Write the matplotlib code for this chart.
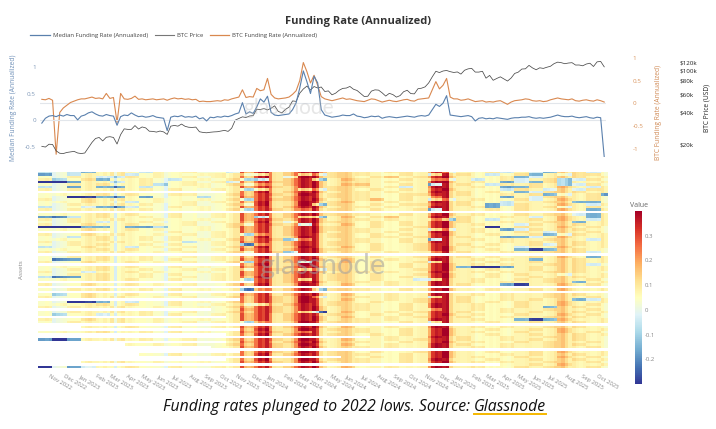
import matplotlib
matplotlib.use("Agg")
import matplotlib.pyplot as plt
import matplotlib.dates as mdates
from matplotlib.lines import Line2D
from matplotlib.ticker import FixedLocator, NullFormatter
import numpy as np
import pandas as pd

plt.rcParams['font.family'] = ['Open Sans', 'DejaVu Sans']

# weekly samples starting 2022-10-13
start = pd.Timestamp('2022-10-13')

median_rate = [
    # 2022
    -0.05, 0.04, 0.08, 0.09, 0.07, 0.1, 0.08, 0.11, 0.09, 0.09, 0.01, 0.08,
    # 2023
    0.1, 0.14, 0.16, 0.12,
    0.09, 0.08, 0.11, 0.09,
    0.08, -0.09, 0.07, 0.1, 0.09,
    0.14, 0.1, 0.07, 0.08,
    0.06, 0.07, 0.09, 0.06,
    0.05, 0.04, -0.19, 0.06, 0.08,
    0.07, 0.09, 0.06, 0.07,
    0.06, 0.08, 0.03, 0.05, -0.01,
    0.06, 0.05, 0.07, 0.06,
    0.08, 0.07, 0.09, 0.12,
    0.14, 0.33, 0.12, 0.16, 0.13,
    0.25, 0.4, 0.34, 0.45,
    # 2024
    0.15, 0.1, 0.09, 0.1,
    0.11, 0.12, 0.2, 0.33, 0.6,
    0.92, 0.72, 0.5, 0.82,
    0.7, 0.2, 0.1, 0.08,
    0.06, 0.07, 0.08, 0.1, 0.09,
    0.09, 0.12, 0.08, 0.07,
    0.05, 0.06, 0.08, 0.07,
    0.08, 0.04, 0.06, 0.07, 0.06,
    0.05, 0.06, 0.07, 0.08,
    0.07, 0.06, 0.08, 0.09, 0.08,
    0.1, 0.2, 0.3, 0.26,
    0.32, 0.46, 0.1, 0.09,
    # 2025
    0.08, 0.07, 0.08, 0.09, 0.07,
    -0.01, 0.04, 0.05, 0.03,
    0.04, 0.03, 0.05, 0.04,
    0.03, 0.02, 0.04, 0.05,
    0.05, 0.06, 0.06, 0.07, 0.05,
    0.04, 0.05, 0.04, 0.05,
    0.06, 0.08, 0.1, 0.08, 0.07,
    0.07, 0.08, 0.06, 0.05,
    0.06, 0.07, 0.05, 0.04,
    0.06, 0.05, -0.68,
]

btc_funding = [
    # 2022
    0.09, 0.08, 0.11, 0.07, -1.12, -0.2, -0.1, -0.04, 0.02, 0.05, 0.08, 0.1,
    # 2023
    0.1, 0.12, 0.14, 0.11,
    0.12, 0.1, 0.22, 0.11,
    0.13, -0.42, 0.22, 0.1, 0.09,
    0.11, 0.16, 0.09, 0.1,
    0.08, 0.09, 0.1, 0.08,
    0.09, 0.1, 0.07, 0.1, 0.12,
    0.1, 0.11, 0.09, 0.1,
    0.08, 0.09, 0.04, 0.05, 0.04,
    0.04, 0.05, 0.06, 0.05,
    0.08, 0.07, 0.1, 0.12,
    0.14, 0.3, 0.13, 0.15, 0.14,
    0.33, 0.28, 0.3, 0.55,
    # 2024
    0.2, 0.12, 0.1, 0.11,
    0.12, 0.14, 0.2, 0.28, 0.5,
    0.9, 0.7, 0.45, 0.62,
    0.4, 0.15, 0.1, 0.08,
    0.06, 0.08, 0.1, 0.12, 0.09,
    0.1, 0.08, 0.06, 0.05,
    0.04, 0.07, 0.1, 0.09,
    0.06, 0.03, 0.05, 0.07, 0.05,
    0.04, 0.06, 0.08, 0.09,
    0.06, 0.05, 0.09, 0.1, 0.11,
    0.12, 0.3, 0.48, 0.32,
    0.4, 0.55, 0.14, 0.1,
    # 2025
    0.1, 0.07, 0.08, 0.1, 0.07,
    0.04, 0.05, 0.06, 0.03,
    0.04, 0.03, 0.05, 0.06,
    0.02, -0.02, 0.03, 0.06,
    0.07, 0.08, 0.1, 0.09, 0.06,
    0.05, 0.06, 0.04, 0.05,
    0.08, 0.1, 0.12, 0.1, 0.09,
    0.08, 0.1, 0.06, 0.05,
    0.07, 0.08, 0.06, 0.05,
    0.08, 0.06, 0.03,
]

# BTC price in thousands USD
btc_price_k = [
    # 2022
    19.4, 19.1, 20.3, 20.2, 17.6, 16.7, 16.6, 17.0, 17.2, 17.4, 16.8, 16.6,
    # 2023
    16.8, 18.8, 21.1, 23.0,
    23.5, 21.8, 23.6, 23.9,
    23.5, 20.4, 25.0, 28.3, 28.0,
    28.0, 30.4, 28.2, 29.5,
    28.9, 26.9, 26.8, 26.4,
    27.0, 26.5, 25.1, 30.0, 30.5,
    30.0, 31.4, 29.9, 29.3,
    29.2, 29.4, 26.6, 26.2, 26.0,
    26.3, 26.5, 26.6, 27.0,
    27.4, 26.8, 28.7, 34.2,
    35.4, 36.7, 36.2, 37.4, 37.7,
    43.3, 43.0, 43.9, 42.6,
    # 2024
    44.2, 46.6, 41.3, 40.0,
    43.1, 45.3, 51.8, 51.3, 61.2,
    67.0, 71.4, 65.5, 70.7,
    68.5, 70.0, 63.5, 64.3,
    59.1, 61.2, 65.2, 67.9, 68.4,
    70.8, 66.7, 64.9, 60.8,
    57.0, 57.3, 64.0, 65.8,
    65.4, 61.7, 57.5, 61.0, 59.4,
    56.2, 58.1, 63.2, 65.2,
    60.7, 60.3, 67.4, 68.2, 70.2,
    76.5, 87.2, 98.3, 95.6,
    98.9, 100.0, 97.5, 95.8,
    # 2025
    96.9, 92.5, 100.5, 103.6, 104.7,
    96.6, 96.6, 98.3, 84.7,
    89.9, 80.9, 84.2, 87.2,
    83.2, 79.6, 84.9, 93.8,
    96.5, 103.2, 103.7, 111.7, 105.6,
    101.6, 106.0, 104.6, 107.3,
    109.6, 116.0, 119.8, 118.4, 115.8,
    117.5, 118.4, 112.5, 112.6,
    110.7, 115.0, 117.0, 109.0,
    120.5, 121.7, 108.2,
]

# heatmap: typical weekly level across assets
hm_level = [
    # 2022
    0.04, 0.04, 0.05, 0.04, -0.01, 0.01, 0.02, 0.03, 0.04, 0.05, 0.05, 0.05,
    # 2023
    0.06, 0.08, 0.09, 0.07,
    0.07, 0.06, 0.08, 0.06,
    0.06, -0.03, 0.05, 0.07, 0.06,
    0.07, 0.06, 0.05, 0.05,
    0.05, 0.04, 0.05, 0.04,
    0.04, 0.03, -0.02, 0.04, 0.05,
    0.05, 0.06, 0.04, 0.04,
    0.04, 0.05, 0.02, 0.03, 0.02,
    0.03, 0.03, 0.04, 0.04,
    0.05, 0.05, 0.07, 0.1,
    0.1, 0.26, 0.14, 0.12, 0.14,
    0.25, 0.33, 0.3, 0.36,
    # 2024
    0.24, 0.1, 0.09, 0.09,
    0.1, 0.1, 0.14, 0.22, 0.32,
    0.38, 0.36, 0.32, 0.37,
    0.3, 0.12, 0.07, 0.06,
    0.07, 0.08, 0.1, 0.14, 0.15,
    0.13, 0.09, 0.06, 0.05,
    0.05, 0.06, 0.07, 0.07,
    0.07, 0.04, 0.05, 0.06, 0.05,
    0.05, 0.06, 0.06, 0.07,
    0.07, 0.06, 0.07, 0.08, 0.08,
    0.18, 0.32, 0.36, 0.34,
    0.36, 0.38, 0.13, 0.08,
    # 2025
    0.08, 0.07, 0.07, 0.08, 0.07,
    0.04, 0.05, 0.06, 0.05,
    0.06, 0.05, 0.06, 0.06,
    0.05, 0.04, 0.06, 0.07,
    0.07, 0.07, 0.08, 0.08, 0.07,
    0.07, 0.07, 0.06, 0.07,
    0.08, 0.1, 0.14, 0.16, 0.12,
    0.08, 0.09, 0.07, 0.06,
    0.07, 0.07, 0.06, 0.06,
    0.07, 0.06, 0.03,
]

# per-asset deviation, one char per 4 weeks (' ' = not listed)
asset_rows = [
    "l.lb.y.ly." "y..lyy.y.o" "y.y.yy..l." ".yl.lb.yl.",
    "b.l..yl.y." ".yy.lb.ybl" "y.y..y.b.y" ".l.yb.lyy.",
    "..y.lly.y." "y.y..y.lyy" "y..yo.y.y." "..ybl..y.y",
    "yl.yb..y.l" ".y.ybB.y.b" ".yy..y.ll." "l.yl.ybly.",
    "BBb..l.y.." "y.yl..yy.y" "..y.y..yy." "y.blbyb..y",
    "..y.y..yl." "yy.yll.y.y" ".yo..y.B.y" ".ly.y.bly.",
    "l.b.bb.l.." ".y..y.y..y" "y.y.yl.y.." "y.bby.y.ly",
    "y.y..y.y.y" "..y.bb..bl" "y..y.y..y." "..ly.l.lyy",
    "          " "   ..y.y.y" "..y.y..y.y" ".y.bly.y.y",
    ".y..y.y..y" "y..y..y.y." "y.y..yy..y" "..y.ybl.yb",
    "..BBbb.b.." ".l..y..y.." "y.y..y.l.." "..b.ly..y.",
    "y..y.y..y." ".y.yb.yy.y" "..yo.y.bl." "y..yl.y.y.",
    ".y.y..l.y." "y.y..y..y." "yy..y..y.y" "..l..y.bb.",
    "..y..y.y.." "y..yly..yb" "y..y.yy..y" ".bly..y.ly",
    "l..lbbl..y" ".y..y..y.y" "..y.y..y.." "yb.y.yl.y.",
    "y.y..y.y.." ".y.yb.y.l." "y..y..yB.." ".y.y..y.by",
    "          " "          " "          " "          ",
    ".y..y.y..y" "..y.y..y.y" "y.y..y..y." "y..y.y.lby",
    "bbl.y..y.y" "..y.yB.ybb" ".y.yo..y.y" "..y.l.y.by",
    "y.y..y..y." ".y..y.y..y" "..y.y..lby" ".l..y.y.ly",
    "..y.l..y.." "y.y..y.l.y" "y..y.y..yy" "..y..y.b.y",
    "y..y..y.y." "y..yl.y.B." ".y.y.y..y." "y..ly..y.y",
    "BBBbb.bbl." ".y.yy..y.y" "y..y..y.y." ".B.y..y.y.",
    ".y.y..y.y." ".y..y..y.y" "y.y..y.bl." "y.bly..y..",
    "     ....y" "..y.y..y.y" "..y.y..yy." "y..y.l..y.",
    "y..y.y..y." "y.y.bl.y.." "y..y.y..y." ".y..ybly.y",
    "..l.y..y.y" "..y..y..y." "y..yy.y..y" "..bbl.y..y",
    ".y..y..y.y" ".y.y..ybl." "..y..y.B.." "y.y..y..ly",
    "y.y..y..y." "l.y.y..y.." "y.y..y.y.." "..y.y..y.y",
    "..y.y..y.y" "..y.Bl.y.." "y..y..y..y" ".y..yl.y.y",
    "l..y..l.y." "y..y.y..y." ".y.y..y.y." "y..l..y..y",
    ".y..y.y..y" "..y.y..y.y" "y..y..y.y." ".y.bBb.y..",
    "y.y..y..y." "y..yl.yb.y" "..y.y..l.y" "..y..y.yl.",
    "          " "          " "          " "          ",
    "..y.y..y.." "y.y..y.y.." "y..y..y..y" ".y..y.y.by",
    ".bb.y..y.y" "..y.y..y.y" ".y..y..y.." "y.y.b..y.y",
    "y..y..y.y." "y..yb..yB." ".y.y..yb.." ".y..y..y.y",
    "          " "    .y..y." "y..y.y..y." "y.y..y.yl.",
    ".y..y.y..y" ".y..y..y.y" "y..y.y..yb" "BBb.y..y.y",
    "..y.y..y.." "y.y.l.y.bl" "y..y..y.y." ".y..y..y.y",
    "y..l..y.y." ".y..y..y.y" "..y.y..y.." "y.y..y.y..",
    "..y.y..y.y" "..y.y..y.." "y..y..y.y." ".y.y..l..y",
    "lbb.y..y.." "y.y..y.y.." "y..y.y..y." ".y..y..y.y",
    ".y..y.y..y" "..y.b..yb." "y..y..lb.." "y..y.y..y.",
    "          " "     ..y.y" "..y.y..y.." "y.y..y.b.y",
    "y..y..y.y." "y..y.y..y." ".y..y..y.y" "..bB..y.y.",
    "          " "          " "          " "          ",
    "..y.y..y.y" ".y..Bl.y.b" "y.y..y..y." ".y..y.y..y",
    "          " "          " "          " "          ",
    ".l.y..y..y" "..y.y..y.y" ".y..y..y.." "y.y..y.y..",
    "y..y.y..y." "y..y..y.yl" "..y.y..b.y" "..y..y..y.",
    "          " "    ..y.y." ".y..y.y..y" "..y.y..bly",
    "..BBb.l..y" ".y.y..y.y." "y..y..y..y" ".y.y..y..y",
    ".y..y.y..y" "..y.lb.y.." "y.y..y.y.." "y..y..y.y.",
    "y.y..y..y." ".y.y..y..y" "..y..y.y.." "y..y.b.y..",
    "          " "  ..y.y..y" "..y..y.l.." "y.y..y..y.",
    "..y..y.y.." "y..y..y.bB" ".y..y.y..y" "..y.y..y.y",
    ".l..l..y.y" "..y.y..y.." "y..y.y..y." "y..y..y.y.",
    "          " "   .y..y.y" ".y..y.y..y" "..y..y.y..",
    "y..y.y..y." ".y..y..y.y" "..y.y..y.." "y..bBby..y",
    "..y..y..y." "y.y.bl..y." "y.y..y.b.." ".y..y..y.y",
    "          " "          " "          " "          ",
    "   ...y..y" "..y.y..y.y" ".y..y..y.." "y.y..y.y..",
    "          " "    .y..y." "y.y..y..y." ".y..y.y..y",
    ".y..y..y.y" ".y..y.y.l." "..y..y..y." "y..y..y.y.",
    "          " "   ..y.y.." "y..y.y..y." ".y..y..y.y",
    "          " "          " "   .y..y.y" "..y..y.y..",
    "bBb..y.y.." "y..y..y.y." ".y..y.y..y" "..y.y..y..",
    "          " "   .y..y.y" "..y..y..y." "y..y.y..y.",
    "      ..y." "y..y..y.y." ".y..y..y.y" "..y..y.y..",
    "          " "  ..y.y..y" "..y.y..y.." "y.y..y..y.",
    "          " "          " "          " "          ",
    "          " "    ..y.y." "y..y..y.y." ".y..y.y..y",
    "       ..y" "..y..y.y.." "y.y..y..y." "..y.y..y.y",
    "          " "          " " ..y.y..y." "y..y..y.y.",
    "          " "   ..y..y." "y.y..y.y.." ".y..y..y.y",
    "   ..y..y." ".y..y.y..y" "..y..y..y." "y.y..y..y.",
    "          " "          " "          " "  ..y.y..y",
    "B.bl..y..y" "..y.y..y.y" ".y..y..y.." "y..y.y..y.",
]
dev_codes = {' ': np.nan, 'B': -0.36, 'b': -0.22, 'l': -0.1, '.': 0.0,
             'y': 0.04, 'o': 0.1, 'r': 0.2}

weeks = pd.date_range(start, periods=len(btc_price_k), freq='7D')
x_med = pd.date_range(start, periods=len(median_rate), freq='7D')
x_fund = pd.date_range(start, periods=len(btc_funding), freq='7D')

n_w = len(hm_level)
grid = []
for row in asset_rows:
    row = row.ljust(40, '.')[:40]
    grid.append([hm_level[j] + dev_codes[row[j // 4]] for j in range(n_w)])
grid = np.array(grid)

x0 = mdates.date2num(start - pd.Timedelta(days=3.5))
x1 = mdates.date2num(start + pd.Timedelta(days=7 * (n_w - 1) + 3.5))

fig = plt.figure(figsize=(7.16, 4.29), dpi=100)

blue = '#5a80ad'
orange = '#d9884f'

# ---- top chart
ax = fig.add_axes([0.0559, 0.634, 0.7905, 0.2308])
ax2 = ax.twinx()
ax3 = ax.twinx()
ax.set_zorder(3)
ax.patch.set_visible(False)

ax.plot(x_med, median_rate, color=blue, lw=0.8)
ax2.plot(x_fund, btc_funding, color=orange, lw=0.8)
ax3.plot(weeks, np.array(btc_price_k) * 1000, color='#4a4a4a', lw=0.55)

ax.set_ylim(-0.68, 1.16)
ax2.set_ylim(-1.18, 0.96)
ax3.set_yscale('log')
ax3.set_ylim(15.4e3, 131e3)
for a in (ax, ax2, ax3):
    a.set_xlim(x0, x1)
    for s in a.spines.values():
        s.set_visible(False)
    a.tick_params(axis='x', bottom=False, labelbottom=False)
    a.tick_params(axis='y', length=0, labelsize=4.5)

ax.axhline(0, color='#e2e6eb', lw=0.8, zorder=0)
ax2.axhline(0, color='#e2e6eb', lw=0.8, zorder=0)

ax.set_yticks([-0.5, 0, 0.5, 1])
ax.set_yticklabels(['-0.5', '0', '0.5', '1'])
ax.tick_params(axis='y', labelcolor='#7f98b8', pad=3)
ax.set_ylabel('Median Funding Rate (Annualized)', color='#6f90b8', fontsize=4.8)
ax.yaxis.set_label_coords(-0.041, 0.5)

ax2.spines['right'].set_position(('outward', 18))
ax2.set_yticks([-1, -0.5, 0, 0.5, 1])
ax2.set_yticklabels(['-1', '-0.5', '0', '0.5', '1'])
ax2.tick_params(axis='y', labelcolor='#d9955f', pad=1)
ax2.set_ylabel('BTC Funding Rate (Annualized)', color='#d08a55', fontsize=4.8)
ax2.yaxis.set_label_coords(1.087, 0.45)

ax3.spines['right'].set_position(('outward', 52))
ax3.yaxis.set_major_locator(FixedLocator([20e3, 40e3, 60e3, 80e3, 100e3, 120e3]))
ax3.yaxis.set_minor_formatter(NullFormatter())
ax3.yaxis.set_minor_locator(FixedLocator([]))
ax3.set_yticklabels(['$20k', '$40k', '$60k', '$80k', '$100k', '$120k'])
ax3.tick_params(axis='y', labelcolor='#222222', pad=1)
ax3.set_ylabel('BTC Price (USD)', color='#222222', fontsize=4.8)
ax3.yaxis.set_label_coords(1.173, 0.5)

ax.text(0.44, 0.5, 'glassnode', transform=ax.transAxes, fontsize=15,
        color='#b8b8b8', alpha=0.35, ha='center', va='center', family='Lato')

fig.text(0.5, 0.949, 'Funding Rate (Annualized)', ha='center', va='center',
         fontsize=8, fontweight='bold', color='#333333')

handles = [Line2D([], [], color=blue, lw=0.9),
           Line2D([], [], color='#777777', lw=0.8),
           Line2D([], [], color=orange, lw=0.9)]
fig.legend(handles, ['Median Funding Rate (Annualized)', 'BTC Price',
                     'BTC Funding Rate (Annualized)'],
           loc='center left', bbox_to_anchor=(0.035, 0.918), ncol=3,
           frameon=False, fontsize=4.3, handlelength=3.2, columnspacing=1.2,
           handletextpad=0.5, labelcolor='#444444')

# ---- heatmap
hx = fig.add_axes([0.0531, 0.1422, 0.7947, 0.4569])
im = hx.imshow(grid, aspect='auto', cmap='RdYlBu_r', vmin=-0.3, vmax=0.4,
               interpolation='nearest', extent=[x0, x1, len(asset_rows), 0])
for s in hx.spines.values():
    s.set_visible(False)
hx.set_yticks([])
hx.set_ylabel('Assets', fontsize=4.5, color='#888888', labelpad=10)
months = pd.date_range('2022-11-01', '2025-10-01', freq='MS')
hx.set_xticks(mdates.date2num(months))
hx.set_xticklabels([m.strftime('%b %Y') for m in months], rotation=-30,
                   ha='left', va='top', rotation_mode='anchor',
                   fontsize=4.2, color='#888888')
hx.tick_params(axis='x', length=0, pad=4)
hx.text(0.5, 0.52, 'glassnode', transform=hx.transAxes, fontsize=21,
        color='#a0a0a0', alpha=0.55, ha='center', va='center', family='Lato')

cax = fig.add_axes([0.8869, 0.1049, 0.0098, 0.4033])
cb = fig.colorbar(im, cax=cax)
cb.outline.set_visible(False)
cb.set_ticks([-0.2, -0.1, 0, 0.1, 0.2, 0.3])
cb.set_ticklabels(['-0.2', '-0.1', '0', '0.1', '0.2', '0.3'])
cax.tick_params(labelsize=4.3, length=0, labelcolor='#888888', pad=2)
cax.set_title('Value', fontsize=5, color='#666666', pad=3)

# ---- caption
split = 0.662
t1 = fig.text(split, 0.051, 'Funding rates plunged to 2022 lows. Source:\u00a0',
              ha='right', va='center', fontsize=11.3, style='italic', color='#111111')
t2 = fig.text(split, 0.051, 'Glassnode', ha='left', va='center', fontsize=11.3,
              style='italic', color='#111111')
fig.canvas.draw()
bb = t2.get_window_extent(fig.canvas.get_renderer()).transformed(fig.transFigure.inverted())
fig.add_artist(Line2D([bb.x0, bb.x1], [bb.y0 + 0.003, bb.y0 + 0.003],
                      color='#f5b800', lw=1.4, transform=fig.transFigure))

fig.savefig('out.png', dpi=100)
